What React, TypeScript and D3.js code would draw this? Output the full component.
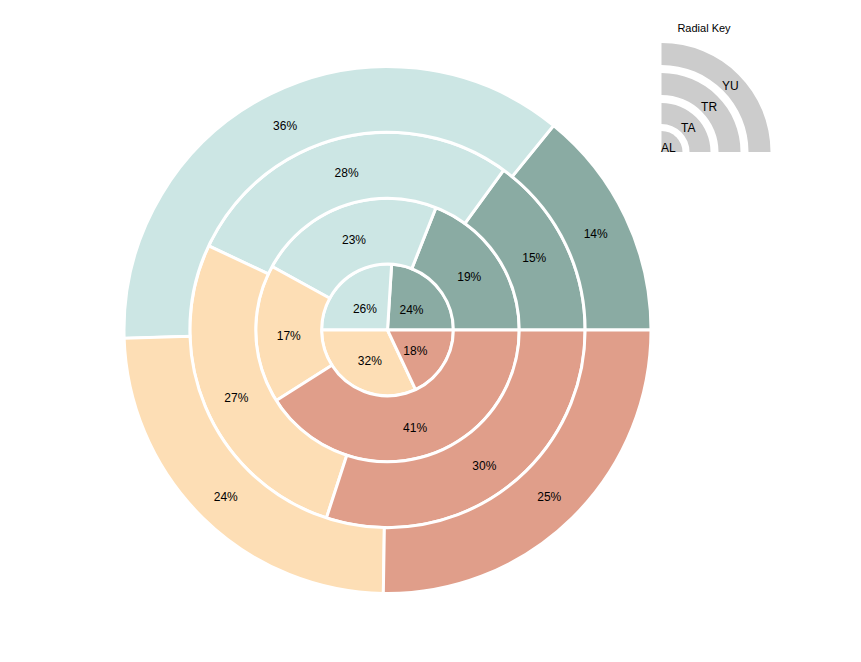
import React from "react";
import * as d3 from "d3";

const rings = ["AL", "TA", "TR", "YU"];
const categories = ["A", "B", "C", "D"];
const colors = ["#8aaba3", "#cce6e4", "#fddeb5", "#e09e8a"];
const valuesAL = [24, 26, 32, 18];
const valuesTA = [19, 23, 17, 41];
const valuesTR = [15, 28, 27, 30];
const valuesYU = [14, 36, 24, 25];
const ringValues = [valuesAL, valuesTA, valuesTR, valuesYU];

const W = 861;
const H = 662;
const cx = 387.5;
const cy = 330;
const outerR = 263.5;

export default function App() {
  const ringW = outerR / rings.length;
  const pie = d3
    .pie<number>()
    .sort(null)
    .value((d) => d)
    .startAngle(Math.PI / 2)
    .endAngle(Math.PI / 2 - 2 * Math.PI);

  const legendCx = 661.5;
  const legendCy = 152;
  const legendBands = [
    [0, 21],
    [28, 49],
    [57, 79],
    [87, 109],
  ];
  const legendArc = d3.arc<any>();

  return (
    <svg
      width={W}
      height={H}
      style={{ position: "absolute", left: 0, top: 0, fontFamily: "Liberation Sans, Arial, sans-serif" }}
    >
      <g transform={`translate(${cx},${cy})`}>
        {ringValues.map((vals, ri) => {
          const arc = d3
            .arc<d3.PieArcDatum<number>>()
            .innerRadius(ri * ringW)
            .outerRadius((ri + 1) * ringW);
          const arcs = pie(vals);
          return (
            <g key={rings[ri]}>
              {arcs.map((a, i) => (
                <path
                  key={categories[i]}
                  d={arc(a) || ""}
                  fill={colors[i]}
                  stroke="#fff"
                  strokeWidth={3}
                />
              ))}
            </g>
          );
        })}
        {ringValues.map((vals, ri) => {
          const arc = d3
            .arc<d3.PieArcDatum<number>>()
            .innerRadius(ri * ringW)
            .outerRadius((ri + 1) * ringW);
          const arcs = pie(vals);
          return (
            <g key={"l" + rings[ri]}>
              {arcs.map((a, i) => {
                const [x, y] = arc.centroid(a);
                return (
                  <text
                    key={categories[i]}
                    x={x}
                    y={y}
                    textAnchor="middle"
                    dy="0.58em"
                    fontSize={12}
                    fill="#000"
                  >
                    {vals[i] + "%"}
                  </text>
                );
              })}
            </g>
          );
        })}
      </g>
      <text x={704} y={32} textAnchor="middle" fontSize={11} fill="#000">
        Radial Key
      </text>
      <g transform={`translate(${legendCx},${legendCy})`}>
        {rings.map((r, i) => {
          const [ir, or] = legendBands[i];
          const mid = (ir + or) / 2;
          const ang = Math.PI / 4;
          return (
            <g key={r}>
              <path
                d={
                  legendArc({
                    innerRadius: ir,
                    outerRadius: or,
                    startAngle: 0,
                    endAngle: Math.PI / 2,
                  }) || ""
                }
                fill="#cccccc"
              />
              <text
                x={mid * Math.sin(ang) - 0.5}
                y={-mid * Math.cos(ang)}
                textAnchor="middle"
                dy="0.58em"
                fontSize={12}
                fill="#000"
              >
                {r}
              </text>
            </g>
          );
        })}
      </g>
    </svg>
  );
}
